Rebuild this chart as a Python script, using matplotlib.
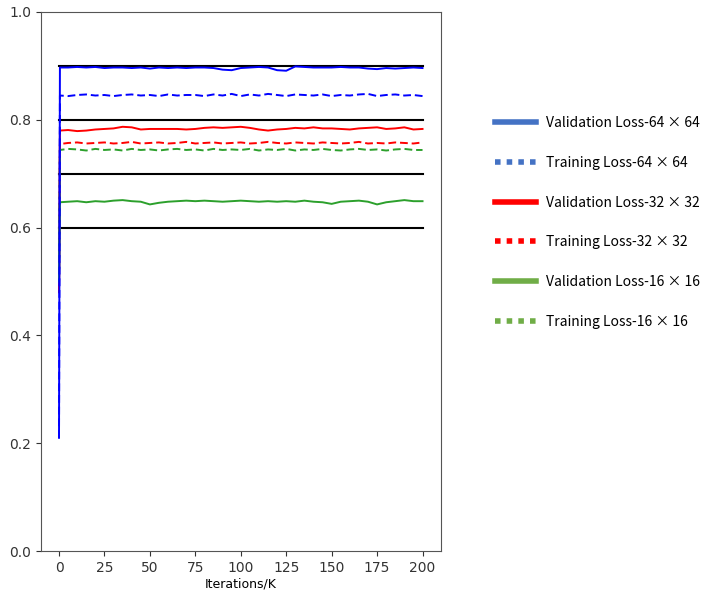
import matplotlib
matplotlib.use("Agg")
import matplotlib.pyplot as plt
from matplotlib.lines import Line2D

iters = [0, 0.5] + list(range(5, 205, 5))

val_64 = [0.21, 0.897, 0.897, 0.898, 0.897, 0.898, 0.896, 0.897, 0.897, 0.896, 0.897, 0.895,
          0.897, 0.896, 0.897, 0.896, 0.897, 0.897, 0.896, 0.893, 0.892, 0.896, 0.897, 0.898,
          0.897, 0.892, 0.891, 0.899, 0.898, 0.897, 0.897, 0.897, 0.898, 0.897, 0.897, 0.895,
          0.894, 0.896, 0.895, 0.896, 0.897, 0.896]
train_64 = [0.21, 0.845, 0.844, 0.846, 0.847, 0.845, 0.846, 0.844, 0.846, 0.847, 0.845, 0.846,
            0.844, 0.847, 0.845, 0.846, 0.846, 0.844, 0.847, 0.845, 0.848, 0.844, 0.847, 0.845,
            0.848, 0.846, 0.844, 0.847, 0.846, 0.845, 0.847, 0.844, 0.846, 0.845, 0.847, 0.848,
            0.844, 0.846, 0.847, 0.845, 0.846, 0.844]
val_32 = [0.48, 0.780, 0.781, 0.779, 0.780, 0.782, 0.783, 0.784, 0.787, 0.786, 0.782, 0.783,
          0.783, 0.783, 0.783, 0.782, 0.783, 0.785, 0.786, 0.785, 0.786, 0.787, 0.785, 0.782,
          0.780, 0.782, 0.783, 0.785, 0.784, 0.786, 0.784, 0.784, 0.783, 0.782, 0.784, 0.785,
          0.786, 0.783, 0.784, 0.786, 0.782, 0.783]
train_32 = [0.48, 0.755, 0.757, 0.758, 0.756, 0.757, 0.758, 0.756, 0.757, 0.759, 0.756, 0.757,
            0.758, 0.756, 0.757, 0.759, 0.756, 0.757, 0.758, 0.756, 0.757, 0.758, 0.756, 0.757,
            0.759, 0.757, 0.756, 0.758, 0.757, 0.756, 0.758, 0.757, 0.756, 0.757, 0.759, 0.756,
            0.757, 0.756, 0.758, 0.757, 0.756, 0.758]
val_16 = [0.50, 0.647, 0.648, 0.649, 0.647, 0.649, 0.648, 0.650, 0.651, 0.649, 0.648, 0.643,
          0.646, 0.648, 0.649, 0.650, 0.649, 0.650, 0.649, 0.648, 0.649, 0.650, 0.649, 0.648,
          0.649, 0.648, 0.649, 0.648, 0.650, 0.648, 0.647, 0.644, 0.648, 0.649, 0.650, 0.648,
          0.643, 0.647, 0.649, 0.651, 0.649, 0.649]
train_16 = [0.50, 0.744, 0.746, 0.745, 0.743, 0.746, 0.744, 0.745, 0.743, 0.746, 0.744, 0.745,
            0.743, 0.745, 0.746, 0.744, 0.745, 0.743, 0.746, 0.744, 0.745, 0.744, 0.746, 0.743,
            0.745, 0.744, 0.746, 0.743, 0.745, 0.744, 0.746, 0.744, 0.743, 0.745, 0.746, 0.744,
            0.745, 0.743, 0.745, 0.746, 0.744, 0.744]

ref_levels = [0.9, 0.8, 0.7, 0.6]
legend_labels = ["Validation Loss-64 × 64", "Training Loss-64 × 64",
                 "Validation Loss-32 × 32", "Training Loss-32 × 32",
                 "Validation Loss-16 × 16", "Training Loss-16 × 16"]

fig = plt.figure(figsize=(7.04, 5.93), dpi=100)
ax = fig.add_axes([0.058, 0.0708, 0.568, 0.909])

for lv in ref_levels:
    ax.plot([0, 200], [lv, lv], color="black", lw=1.5, zorder=1)

ax.plot(iters, val_64, color="#0000ff", lw=1.4, zorder=3)
ax.plot(iters, train_64, color="#0000ff", lw=1.4, ls=(0, (4, 2)), zorder=3)
ax.plot(iters, val_32, color="#ff0000", lw=1.4, zorder=2)
ax.plot(iters, train_32, color="#ff0000", lw=1.4, ls=(0, (4, 2)), zorder=2)
ax.plot(iters, val_16, color="#2ca02c", lw=1.4, zorder=2)
ax.plot(iters, train_16, color="#2ca02c", lw=1.4, ls=(0, (4, 2)), zorder=2)

ax.set_ylim(0, 1.0)
ax.set_xlim(-10, 210)
ax.set_xticks(range(0, 201, 25))
ax.set_yticks([0.0, 0.2, 0.4, 0.6, 0.8, 1.0])
ax.set_xlabel("Iterations/K", fontsize=9, labelpad=2)
ax.tick_params(colors="#333333")
for sp in ax.spines.values():
    sp.set_color("#555555")

leg_colors = ["#4472C4", "#4472C4", "#FF0000", "#FF0000", "#70AD47", "#70AD47"]
leg_styles = ["-", (0, (1, 1.1)), "-", (0, (1, 1.1)), "-", (0, (1, 1.1))]
handles = [Line2D([0], [0], color=c, lw=4, ls=s) for c, s in zip(leg_colors, leg_styles)]
fig.legend(handles, legend_labels, loc="upper left", bbox_to_anchor=(0.685, 0.825),
           frameon=False, handlelength=3.0, labelspacing=1.85,
           handletextpad=0.7, prop={"family": ["Noto Sans CJK SC", "DejaVu Sans"], "size": 10})

fig.savefig("out.png", dpi=100)
